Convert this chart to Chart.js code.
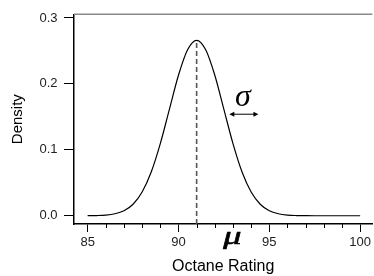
<!DOCTYPE html>
<html>
<head>
<meta charset="utf-8">
<script src="https://cdn.jsdelivr.net/npm/chart.js@4"></script>
<style>
  html, body { margin: 0; padding: 0; background: #fff; }
  #wrap { position: relative; width: 374px; height: 276px; }
</style>
</head>
<body>
<div id="wrap"><canvas id="c" width="374" height="276"></canvas></div>
<script>
// ---- Data ----
const octane = [85, 85.5, 86, 86.5, 87, 87.5, 88, 88.5, 89, 89.5, 90, 90.5, 91,
                91.5, 92, 92.5, 93, 93.5, 94, 94.5, 95, 95.5, 96, 96.5, 97,
                97.5, 98, 98.5, 99, 99.5, 100];
const density = [0.0001, 0.0003, 0.0010, 0.0030, 0.0076, 0.0175, 0.0360, 0.0663, 0.1094, 0.1613, 0.2130, 0.2516, 0.2660,
                 0.2516, 0.2130, 0.1613, 0.1094, 0.0663, 0.0360, 0.0175, 0.0076, 0.0030, 0.0010, 0.0003, 0.0001,
                 0, 0, 0, 0, 0, 0];
const meanOctane = 91;
const peakDensity = 0.266;
const xTicks = [85, 86, 87, 88, 89, 90, 91, 92, 93, 94, 95, 96, 97, 98, 99, 100];
const yTicks = [0.0, 0.1, 0.2, 0.3];
const xRange = [84.25, 100.67];
const yRange = [-0.0125, 0.3055];
// annotation anchors (data units)
const sigmaArrow = [92.8, 94.4];
const sigmaArrowY = 0.154;
const sigmaLabel = [93.55, 0.166];
const muLabel = [92.96, -0.0425];

const curve = octane.map((x, i) => ({x: x, y: density[i]}));
const meanLine = [{x: meanOctane, y: yRange[0]}, {x: meanOctane, y: peakDensity}];

const FONT = "'Liberation Sans', Arial, sans-serif";

const extras = {
  id: 'extras',
  afterDraw(chart) {
    const {ctx, chartArea: a, scales: {x, y}} = chart;
    ctx.save();
    // top frame line
    ctx.strokeStyle = '#8a8a8a';
    ctx.lineWidth = 1.5;
    ctx.beginPath();
    ctx.moveTo(a.left, a.top);
    ctx.lineTo(a.right, a.top);
    ctx.stroke();
    // minor x ticks
    ctx.strokeStyle = '#000';
    ctx.lineWidth = 1;
    xTicks.forEach(v => {
      if (v % 5 !== 0) {
        const px = Math.round(x.getPixelForValue(v)) + 0.5;
        ctx.beginPath();
        ctx.moveTo(px, a.bottom);
        ctx.lineTo(px, a.bottom + 4);
        ctx.stroke();
      }
    });
    // sigma arrow
    const x1 = x.getPixelForValue(sigmaArrow[0]);
    const x2 = x.getPixelForValue(sigmaArrow[1]);
    const ay = y.getPixelForValue(sigmaArrowY);
    ctx.strokeStyle = '#000';
    ctx.fillStyle = '#000';
    ctx.lineWidth = 1;
    ctx.beginPath();
    ctx.moveTo(x1 + 3, ay);
    ctx.lineTo(x2 - 3, ay);
    ctx.stroke();
    ctx.beginPath();
    ctx.moveTo(x1, ay); ctx.lineTo(x1 + 5, ay - 2.5); ctx.lineTo(x1 + 5, ay + 2.5); ctx.closePath();
    ctx.fill();
    ctx.beginPath();
    ctx.moveTo(x2, ay); ctx.lineTo(x2 - 5, ay - 2.5); ctx.lineTo(x2 - 5, ay + 2.5); ctx.closePath();
    ctx.fill();
    // Greek labels
    ctx.textAlign = 'center';
    ctx.textBaseline = 'alphabetic';
    ctx.font = "italic 32px 'Liberation Serif', 'DejaVu Serif', serif";
    ctx.fillText('σ', x.getPixelForValue(sigmaLabel[0]), y.getPixelForValue(sigmaLabel[1]));
    ctx.save();
    ctx.translate(x.getPixelForValue(muLabel[0]), y.getPixelForValue(muLabel[1]));
    ctx.scale(1.45, 1);
    ctx.font = "italic 25px 'Liberation Serif', 'DejaVu Serif', serif";
    ctx.lineWidth = 0.6;
    ctx.fillText('μ', 0, 0);
    ctx.strokeText('μ', 0, 0);
    ctx.restore();
    ctx.restore();
  }
};

new Chart(document.getElementById('c'), {
  type: 'scatter',
  data: {
    datasets: [
      {
        data: curve,
        showLine: true,
        borderColor: '#000',
        borderWidth: 1.2,
        pointRadius: 0,
        cubicInterpolationMode: 'monotone',
        fill: false
      },
      {
        data: meanLine,
        showLine: true,
        borderColor: '#555',
        borderWidth: 1.6,
        borderDash: [5, 3],
        pointRadius: 0,
        fill: false
      }
    ]
  },
  options: {
    responsive: false,
    animation: false,
    events: [],
    layout: { padding: { top: 12, right: 0, left: 0, bottom: 0 } },
    plugins: { legend: { display: false }, tooltip: { enabled: false } },
    scales: {
      x: {
        type: 'linear',
        min: xRange[0],
        max: xRange[1],
        afterBuildTicks: s => { s.ticks = xTicks.map(v => ({value: v})); },
        afterFit: s => { s.height = 52; },
        grid: {
          display: true,
          drawOnChartArea: false,
          drawTicks: true,
          tickLength: 8,
          tickColor: c => (c.tick && c.tick.value % 5 === 0) ? '#000' : 'rgba(0,0,0,0)',
          tickWidth: 1
        },
        border: { display: true, color: '#000', width: 1.5 },
        ticks: {
          autoSkip: false,
          maxRotation: 0,
          padding: 3,
          color: '#222',
          font: { family: FONT, size: 13 },
          callback: v => (v % 5 === 0 ? String(v) : '')
        },
        title: {
          display: true,
          text: 'Octane Rating',
          color: '#000',
          font: { family: FONT, size: 16 },
          padding: { top: 0, bottom: 0 }
        }
      },
      y: {
        type: 'linear',
        min: yRange[0],
        max: yRange[1],
        afterBuildTicks: s => { s.ticks = yTicks.map(v => ({value: v})); },
        afterFit: s => { s.width = 74; },
        grid: {
          display: true,
          drawOnChartArea: false,
          drawTicks: true,
          tickLength: 10,
          tickColor: '#000',
          tickWidth: 1
        },
        border: { display: true, color: '#000', width: 1.5 },
        ticks: {
          padding: 6.5,
          color: '#222',
          font: { family: FONT, size: 13 },
          callback: v => Number(v).toFixed(1)
        },
        title: {
          display: true,
          text: 'Density',
          color: '#000',
          font: { family: FONT, size: 15 },
          padding: { top: 9, bottom: 0 }
        }
      }
    }
  },
  plugins: [extras]
});
</script>
</body>
</html>
